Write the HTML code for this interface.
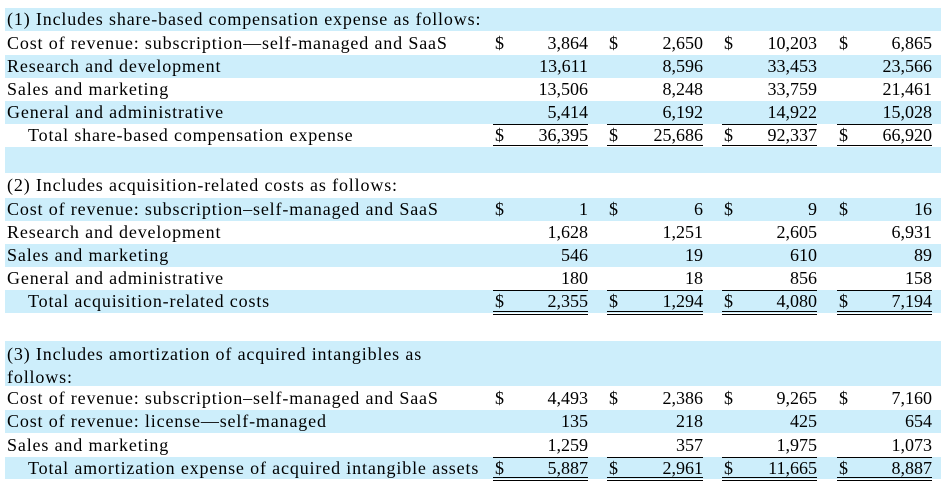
<!DOCTYPE html>
<html><head><meta charset="utf-8"><style>
body{margin:0;width:946px;height:487px;background:#fff;position:relative;overflow:hidden;font-family:"Liberation Serif",serif;font-size:18px;color:#000}
.r{position:absolute;left:5px;width:936px}
.b{background:#cdeefb}
.t{position:absolute;left:2px;white-space:nowrap;letter-spacing:0.85px}
.d{position:absolute;width:14px}
.v{position:absolute;text-align:right;width:90px}
.ln{position:absolute;border-top:1px solid #000;height:0}
.dl{position:absolute;border-top:1px solid #000;border-bottom:1px solid #000;height:2px}
</style></head><body>
<div id="c"></div>
<script>
const rows=[
[8,23,1,"(1) Includes share-based compensation expense as follows:",0,null,0],
[31,24,0,"Cost of revenue: subscription—self-managed and SaaS",0,["3,864","2,650","10,203","6,865"],1],
[55,23,1,"Research and development",0,["13,611","8,596","33,453","23,566"],0],
[78,23,0,"Sales and marketing",0,["13,506","8,248","33,759","21,461"],0],
[101,23,1,"General and administrative",0,["5,414","6,192","14,922","15,028"],0],
[124,23,0,"Total share-based compensation expense",1,["36,395","25,686","92,337","66,920"],2],
[147,26,1,"",0,null,0],
[173,25,0,"(2) Includes acquisition-related costs as follows:",0,null,0],
[198,23,1,"Cost of revenue: subscription–self-managed and SaaS",0,["1","6","9","16"],1],
[221,23,0,"Research and development",0,["1,628","1,251","2,605","6,931"],0],
[244,23,1,"Sales and marketing",0,["546","19","610","89"],0],
[267,23,0,"General and administrative",0,["180","18","856","158"],0],
[290,23,1,"Total acquisition-related costs",1,["2,355","1,294","4,080","7,194"],2],
[313,28,0,"",0,null,0],
[341,45,1,"",0,null,0],
[386,24,0,"Cost of revenue: subscription–self-managed and SaaS",0,["4,493","2,386","9,265","7,160"],1],
[410,23,1,"Cost of revenue: license—self-managed",0,["135","218","425","654"],0],
[433,24,0,"Sales and marketing",0,["1,259","357","1,975","1,073"],0],
[457,22,1,"Total amortization expense of acquired intangible assets",1,["5,887","2,961","11,665","8,887"],2]];
const dx=[493,607,722,837],vr=[588,703,817,932];
let h="";
for(const[top,ht,b,l,ind,vals,ds]of rows){
 h+=`<div class="r${b?' b':''}" style="top:${top}px;height:${ht}px;line-height:${ht}px">`;
 if(l)h+=`<div class="t" style="left:${ind?23:2}px">${l}</div>`;
 if(vals)vals.forEach((v,i)=>{
  if(ds)h+=`<div class="d" style="left:${dx[i]-5+2}px">$</div>`;
  h+=`<div class="v" style="left:${vr[i]-5-90}px">${v}</div>`;
 });
 h+=`</div>`;
 if(ds==2){vals.forEach((v,i)=>{
  h+=`<div class="ln" style="left:${dx[i]}px;width:${vr[i]-dx[i]}px;top:${top}px"></div>`;
  h+=`<div class="dl" style="left:${dx[i]}px;width:${vr[i]-dx[i]}px;top:${top+ht-2}px"></div>`;});}
}
h+=`<div style="position:absolute;left:7px;top:343px;line-height:23px;letter-spacing:0.85px">(3) Includes amortization of acquired intangibles as<br>follows:</div>`;
document.getElementById("c").innerHTML=h;
</script>
</body></html>
